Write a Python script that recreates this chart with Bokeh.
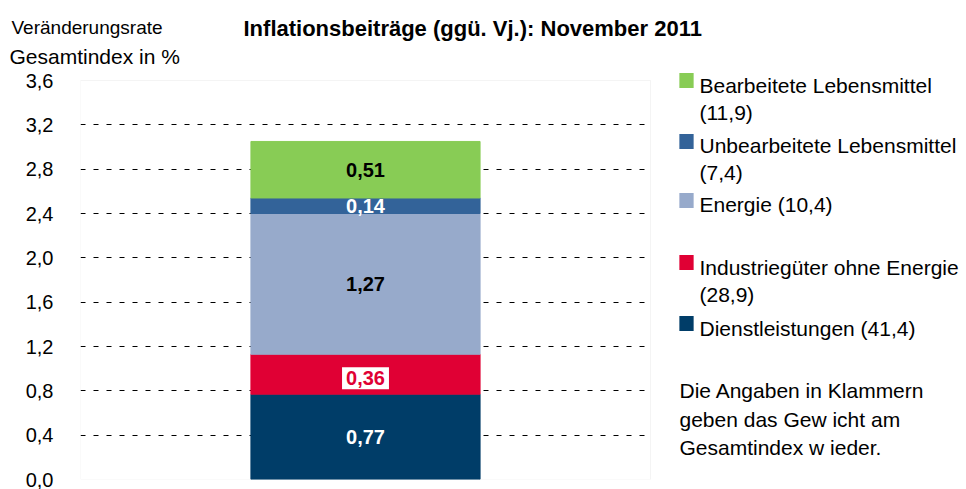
from bokeh.plotting import figure
from bokeh.models import (ColumnDataSource, Range1d, FixedTicker, Label, BoxAnnotation,
                          CustomJSTickFormatter)
from bokeh.embed import file_html
from bokeh.resources import INLINE
from bokeh.core.properties import value

# ---------------- data ----------------
month = ["November 2011"]
series = ["Dienstleistungen", "Industriegüter ohne Energie", "Energie",
          "Unbearbeitete Lebensmittel", "Bearbeitete Lebensmittel"]
contrib = [0.77, 0.36, 1.27, 0.14, 0.51]
weights = [41.4, 28.9, 10.4, 7.4, 11.9]
colors = ["#003d68", "#e00034", "#97aacb", "#336399", "#88cc55"]
label_colors = ["white", "#e00034", "black", "white", "black"]
y_ticks = [0.0, 0.4, 0.8, 1.2, 1.6, 2.0, 2.4, 2.8, 3.2, 3.6]
title_text = "Inflationsbeiträge (ggü. Vj.): November 2011"
y_title = ["Veränderungsrate", "Gesamtindex in %"]
note_lines = ["Die Angaben in Klammern", "geben das Gew icht am", "Gesamtindex w ieder."]

FONT = "Liberation Sans"

# ---------------- layout constants ----------------
W, H = 966, 489
PLOT_L, PLOT_R = 80, 650          # visible plot area (canvas px)
FRAME_TOP, FRAME_BOT = 70, 479    # bokeh frame extends to the right edge, legend lives inside it
Y_MAX = y_ticks[-1]
px_per_unit = (FRAME_BOT - 80) / Y_MAX
y_end = Y_MAX + (80 - FRAME_TOP) / px_per_unit
x_end = (W - PLOT_L) / (PLOT_R - PLOT_L)   # x units: 0..1 == visible plot area

def de(v, d):
    return f"{v:.{d}f}".replace(".", ",")

p = figure(x_range=Range1d(0, x_end), y_range=Range1d(0, y_end),
           width=W, height=H, output_backend="svg", toolbar_location=None,
           min_border_left=PLOT_L, min_border_right=0, min_border_top=FRAME_TOP,
           min_border_bottom=H - FRAME_BOT)
p.background_fill_color = "white"
p.border_fill_color = "white"
p.outline_line_color = None

# grid (dashed, inner ticks only)
p.xgrid.visible = False
p.ygrid.ticker = FixedTicker(ticks=y_ticks[1:-1])
p.ygrid.grid_line_color = "black"
p.ygrid.grid_line_dash = "5 8"
p.ygrid.grid_line_width = 1

# stacked bars (one category, centred in the visible plot area)
xs = [i + 0.5 for i in range(len(month))]
data = {"x": xs}
for s, v in zip(series, contrib):
    data[s] = [v]
src = ColumnDataSource(data)
p.vbar_stack(series, x="x", width=0.402, color=colors, line_color=colors, line_width=1, source=src)

# segment labels
bottoms = []
acc = 0.0
for v in contrib:
    bottoms.append(acc)
    acc += v
mids = [b + v / 2 for b, v in zip(bottoms, contrib)]
txt = [de(v, 2) for v in contrib]
plain = [i for i in range(len(contrib)) if i != 1]
lab_src = ColumnDataSource(dict(x=[xs[0]] * len(plain), y=[mids[i] for i in plain],
                                t=[txt[i] for i in plain], c=[label_colors[i] for i in plain]))
p.text(x="x", y="y", text="t", text_color="c", source=lab_src, text_align="center",
       text_baseline="middle", text_font=value(FONT), text_font_size="20px", text_font_style="bold")
red_src = ColumnDataSource(dict(x=[xs[0]], y=[mids[1]], t=[txt[1]]))
p.text(x="x", y="y", text="t", source=red_src, text_align="center", text_baseline="middle",
       text_color=label_colors[1], text_font=value(FONT), text_font_size="20px",
       text_font_style="bold", background_fill_color="white", padding=4, y_offset=4)

# hide grid beyond the plot area, then draw the light plot border
p.add_layout(BoxAnnotation(left=1, fill_color="white", fill_alpha=1, line_color=None))
p.add_layout(BoxAnnotation(left=0, right=1, bottom=0, top=Y_MAX, fill_color=None, fill_alpha=0,
                           line_color="#d9d9d9", line_width=1))

# y axis
p.xaxis.visible = False
p.yaxis.ticker = FixedTicker(ticks=y_ticks)
p.yaxis.formatter = CustomJSTickFormatter(code="return tick.toFixed(1).replace('.', ',');")
p.yaxis.axis_line_color = None
p.yaxis.major_tick_line_color = None
p.yaxis.minor_tick_line_color = None
p.yaxis.major_label_text_font = FONT
p.yaxis.major_label_text_font_size = "20px"
p.yaxis.major_label_text_color = "black"
p.yaxis.major_label_standoff = 21

def add_label(cx, cy, text, place="center", size="21px", style="normal", color="black"):
    lab = Label(x=cx, y=cy, x_units="canvas", y_units="canvas", text=text,
                text_font=FONT, text_font_size=size, text_font_style=style,
                text_color=color, text_baseline="alphabetic", text_line_height=1.0)
    if place == "center":
        p.add_layout(lab)
    else:
        p.add_layout(lab, place)

# title and axis title (in the top panel, outside the frame)
add_label(243, 28, title_text, "above", size="22px", style="bold")
add_label(11, 27, y_title[0], "above", size="19px")
add_label(9, 56, y_title[1], "above", size="21px")

# legend (manual, inside the extended frame)
legend_rows = [
    (4, ["Bearbeitete Lebensmittel", f"({de(weights[4], 1)})"], 85, 80),
    (3, ["Unbearbeitete Lebensmittel", f"({de(weights[3], 1)})"], 145, 141),
    (2, [f"Energie ({de(weights[2], 1)})"], 204, 200),
    (1, ["Industriegüter ohne Energie", f"({de(weights[1], 1)})"], 267, 262),
    (0, [f"Dienstleistungen ({de(weights[0], 1)})"], 328, 323),
]
for idx, lines, base, sq in legend_rows:
    p.add_layout(Label(x=686, y=sq, x_units="canvas", y_units="canvas",
                       text=" ", text_font_size="1px", text_align="center", text_baseline="middle",
                       background_fill_color=colors[idx], padding=7))
    for k, ln in enumerate(lines):
        add_label(699, base + 27 * k, ln)

for k, ln in enumerate(note_lines):
    add_label(679, 390 + 28.5 * k, ln)

open("out.html", "w").write(file_html(p, INLINE))
